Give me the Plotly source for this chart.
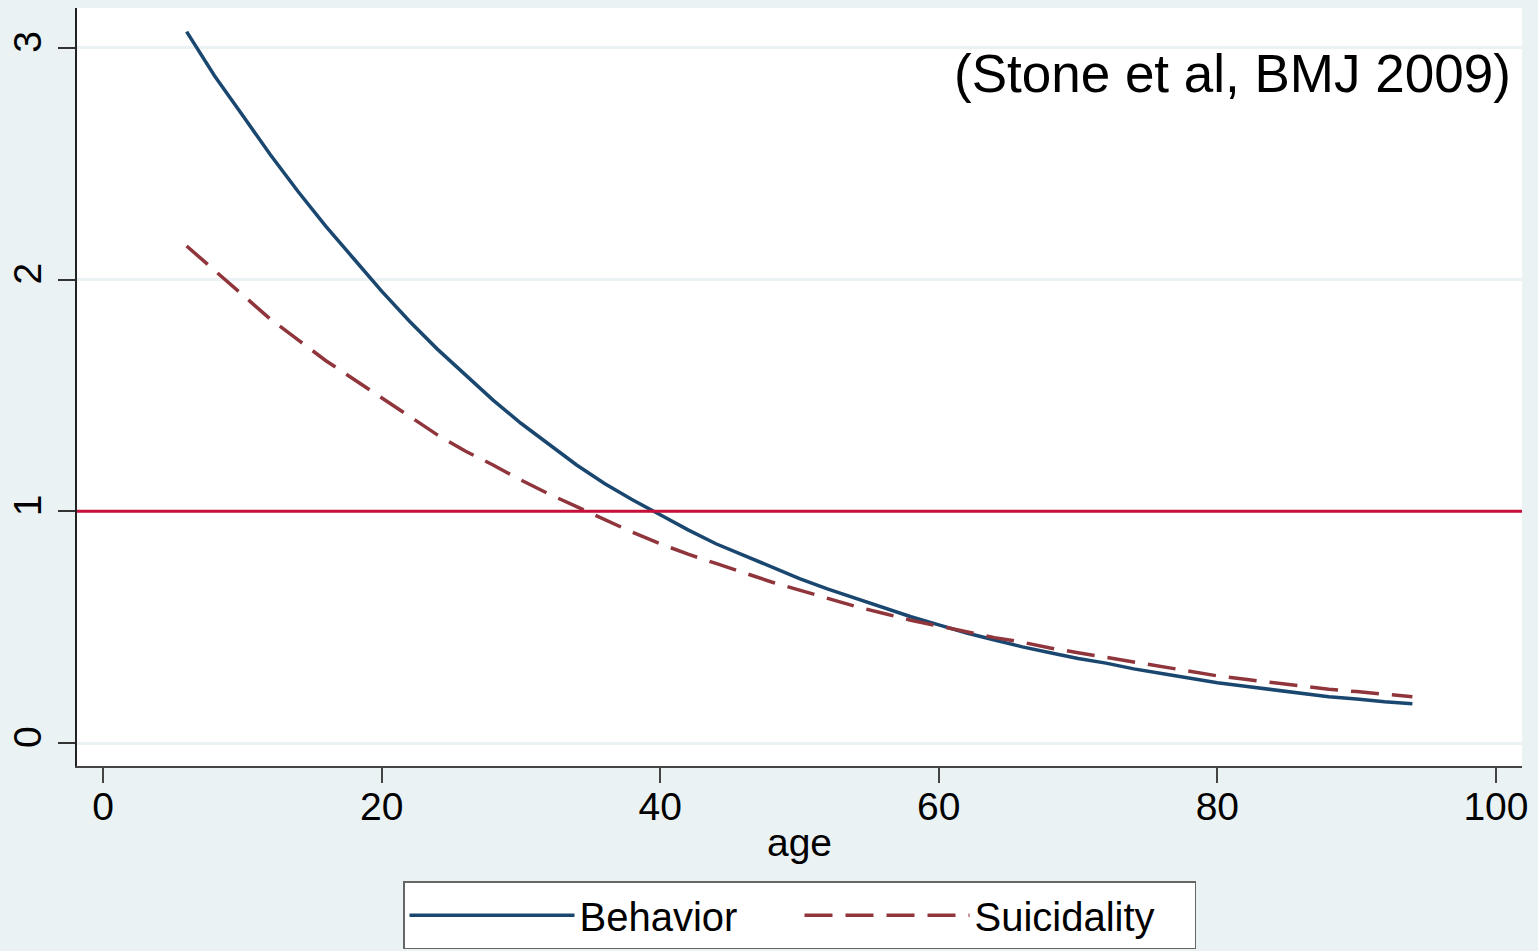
import plotly.graph_objects as go

# ---- data ----
age = [6, 8, 10, 12, 14, 16, 18, 20, 22, 24, 26, 28, 30, 32, 34, 36, 38, 40, 42, 44,
       46, 48, 50, 52, 54, 56, 58, 60, 62, 64, 66, 68, 70, 72, 74, 76, 78, 80, 82, 84,
       86, 88, 90, 92, 94]
behavior = [3.07, 2.88, 2.71, 2.54, 2.38, 2.23, 2.09, 1.95, 1.82, 1.70, 1.59, 1.48, 1.38,
            1.29, 1.20, 1.12, 1.05, 0.985, 0.92, 0.86, 0.81, 0.76, 0.71, 0.665, 0.625,
            0.585, 0.545, 0.51, 0.475, 0.445, 0.415, 0.39, 0.365, 0.345, 0.32, 0.30, 0.28,
            0.26, 0.245, 0.23, 0.215, 0.20, 0.19, 0.178, 0.17]
suicidality = [2.145, 2.04, 1.94, 1.83, 1.74, 1.65, 1.57, 1.49, 1.41, 1.33, 1.26, 1.20,
               1.135, 1.075, 1.02, 0.965, 0.91, 0.86, 0.815, 0.775, 0.735, 0.695, 0.66,
               0.625, 0.59, 0.56, 0.53, 0.505, 0.48, 0.455, 0.435, 0.41, 0.39, 0.37, 0.35,
               0.33, 0.31, 0.29, 0.275, 0.26, 0.245, 0.232, 0.222, 0.21, 0.20]
series_names = ["Behavior", "Suicidality"]
x_ticks = [0, 20, 40, 60, 80, 100]
y_ticks = [0, 1, 2, 3]
ref_value = 1
source_note = "(Stone et al, BMJ 2009)"

FONT = "Liberation Sans, Arial, sans-serif"
BG = "#EAF2F3"

fig = go.Figure()
fig.add_trace(go.Scatter(x=age, y=behavior, mode="lines", name=series_names[0],
                         line=dict(color="#1A476F", width=3.5)))
fig.add_trace(go.Scatter(x=age, y=suicidality, mode="lines", name=series_names[1],
                         line=dict(color="#90353B", width=3.5, dash="28px,13px")))

fig.add_hline(y=ref_value, line=dict(color="#C8103A", width=3), layer="above")

fig.add_annotation(text=source_note, xref="paper", yref="paper", x=0.9938, y=0.914,
                   xanchor="right", yanchor="middle", showarrow=False,
                   font=dict(family=FONT, size=53, color="black"))

fig.update_layout(
    width=1538, height=951,
    margin=dict(l=77, r=16, t=8, b=185, autoexpand=False),
    paper_bgcolor=BG, plot_bgcolor="white",
    font=dict(family=FONT, color="black"),
    showlegend=True,
    legend=dict(orientation="h", x=0.5, xanchor="center", y=-0.152, yanchor="top",
                bgcolor="white", bordercolor="#666666", borderwidth=1.5,
                font=dict(family=FONT, size=40, color="black"),
                itemwidth=165, entrywidth=215, itemclick=False),
    xaxis=dict(range=[-1.87, 101.87], tickvals=x_ticks, ticks="outside", ticklen=15,
               tickwidth=2, tickcolor="#444444", showline=True, linecolor="#444444",
               linewidth=2, showgrid=False, zeroline=False, ticklabelstandoff=-10,
               automargin=False,
               tickfont=dict(family=FONT, size=39, color="black"),
               title=dict(text="age", font=dict(family=FONT, size=39, color="black"),
                          standoff=2)),
    yaxis=dict(range=[-0.099, 3.172], tickvals=y_ticks, ticks="outside", ticklen=17,
               tickwidth=2, tickcolor="#333333", showline=True, linecolor="#222222",
               linewidth=2, showgrid=True, gridcolor=BG, gridwidth=3, zeroline=False,
               tickangle=-90, ticklabelstandoff=1, automargin=False,
               tickfont=dict(family=FONT, size=39, color="black")),
)

fig.write_html("out.html", config={"displayModeBar": False},
               post_script="document.body.style.margin='0';document.body.style.padding='0';")
